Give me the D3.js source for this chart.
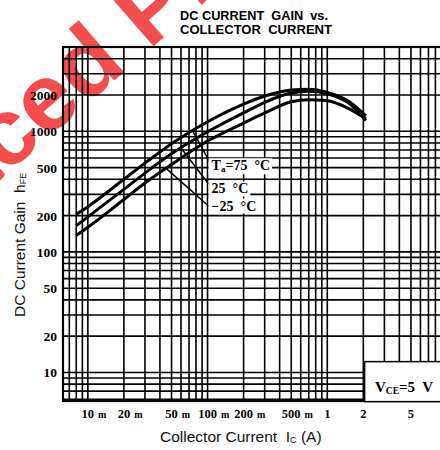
<!DOCTYPE html>
<html><head><meta charset="utf-8">
<script src="https://cdn.jsdelivr.net/npm/d3@7"></script>
<style>body{margin:0;background:#fff}svg{display:block}text{white-space:pre}</style>
</head><body>
<svg id="c" width="440" height="450"></svg>
<script>
// ---- data ----
const currents = [0.008, 0.01, 0.02, 0.03, 0.05, 0.1, 0.2, 0.3, 0.5, 0.7, 1, 1.5, 2.1];
const gain75  = [205, 237, 400, 545, 790, 1200, 1680, 1960, 2200, 2230, 2100, 1780, 1340];
const gain25  = [165, 195, 330, 450, 650, 990, 1420, 1740, 2080, 2150, 2050, 1720, 1230];
const gainM25 = [137, 160, 272, 372, 530, 830, 1170, 1420, 1760, 1830, 1790, 1550, 1270];
const seriesNames = ["T_a=75  °C", "25  °C", "−25  °C"];
const xTickValues = [0.01, 0.02, 0.05, 0.1, 0.2, 0.5, 1, 2, 5];
const xTickNumbers = ["10", "20", "50", "100", "200", "500", "1", "2", "5"];
const xTickSuffix = ["m", "m", "m", "m", "m", "m", "", "", ""];
const yTickValues = [10, 20, 50, 100, 200, 500, 1000, 2000];
const yTickLabels = ["10", "20", "50", "100", "200", "500", "1000", "2000"];
const leaderCurrents = [0.075, 0.06, 0.045];

// ---- setup ----
const svg = d3.select("#c");
const x = d3.scaleLog().domain([0.0062, 10]).range([63, 447]);
const y = d3.scaleLog().domain([5.8, 5000]).range([401, 47]);
const serif = "'Liberation Serif','Times New Roman',serif";
const sans = "'Liberation Sans',Arial,sans-serif";

// watermark (background)
svg.append("text")
  .attr("transform", "translate(-190,345) rotate(-41)")
  .attr("font-family", sans).attr("font-weight", "bold").attr("font-size", 95)
  .attr("fill", "#f23a3a").attr("opacity", 0.9)
  .text("Replaced Product");

// grid values
function logGrid(lo, hi) {
  const out = [];
  for (let e = -4; e <= 4; e++) {
    for (let m = 1; m <= 9; m++) {
      const v = m * Math.pow(10, e);
      if (v >= lo * 1.0001 && v <= hi * 0.9999) out.push(v);
    }
  }
  return out;
}
const xGrid = logGrid(0.0062, 10);
const yGrid = logGrid(5.8, 5000);
const [x0, x1] = x.range();
const [yb, yt] = y.range();

const grid = svg.append("g").attr("stroke", "#000").attr("stroke-width", 1.6);
grid.selectAll("line.v").data(xGrid).join("line")
  .attr("x1", d => x(d)).attr("x2", d => x(d)).attr("y1", yt).attr("y2", yb);
grid.selectAll("line.h").data(yGrid).join("line")
  .attr("y1", d => y(d)).attr("y2", d => y(d)).attr("x1", x0).attr("x2", x1);
svg.append("rect").attr("x", x0).attr("y", yt).attr("width", x1 - x0).attr("height", yb - yt)
  .attr("fill", "none").attr("stroke", "#000").attr("stroke-width", 2.2);

// curves
const series = [gain75, gain25, gainM25];
const line = d3.line().x(d => x(d[0])).y(d => y(d[1])).curve(d3.curveMonotoneX);
svg.append("g").selectAll("path").data(series).join("path")
  .attr("d", s => line(currents.map((c, i) => [c, s[i]])))
  .attr("fill", "none").attr("stroke", "#000").attr("stroke-width", 3);

// interpolate on curve (log-log)
function gainAt(s, c) {
  for (let i = 0; i < currents.length - 1; i++) {
    if (c >= currents[i] && c <= currents[i + 1]) {
      const t = (Math.log(c) - Math.log(currents[i])) / (Math.log(currents[i + 1]) - Math.log(currents[i]));
      return Math.exp(Math.log(s[i]) + t * (Math.log(s[i + 1]) - Math.log(s[i])));
    }
  }
  return s[0];
}

// labels for series
const labelPos = [[0.108, 475], [0.108, 305], [0.108, 220]];
const leaderEnd = [[0.105, 550], [0.102, 365], [0.102, 240]];
const lg = svg.append("g");
series.forEach((s, i) => {
  lg.append("line")
    .attr("x1", x(leaderCurrents[i])).attr("y1", y(gainAt(s, leaderCurrents[i])))
    .attr("x2", x(leaderEnd[i][0])).attr("y2", y(leaderEnd[i][1]))
    .attr("stroke", "#000").attr("stroke-width", 1.5);
});
series.forEach((s, i) => {
  const g = lg.append("g");
  const t = g.append("text").attr("x", x(labelPos[i][0])).attr("y", y(labelPos[i][1]))
    .attr("font-family", serif).attr("font-weight", "bold").attr("font-size", 14);
  const name = seriesNames[i];
  if (name.startsWith("T_a")) {
    t.append("tspan").text("T");
    t.append("tspan").text("a").attr("font-size", 9).attr("dy", 2);
    t.append("tspan").text(name.slice(3)).attr("dy", -2);
  } else {
    t.text(name);
  }
  const bb = t.node().getBBox();
  g.insert("rect", "text").attr("x", bb.x - 3).attr("y", bb.y)
    .attr("width", bb.width + 5).attr("height", bb.height).attr("fill", "#fff");
});

// axis tick labels
const xt = svg.append("g").attr("font-family", serif).attr("font-weight", "bold").attr("font-size", 12.5);
xTickValues.forEach((v, i) => {
  const t = xt.append("text").attr("x", x(v)).attr("y", 418).attr("text-anchor", "middle").text(xTickNumbers[i]);
  if (xTickSuffix[i]) {
    const w = t.node().getComputedTextLength();
    xt.append("text").attr("x", x(v) + w / 2 + 4).attr("y", 418).attr("font-size", 10).text(xTickSuffix[i]);
  }
});
const yt2 = svg.append("g").attr("font-family", serif).attr("font-weight", "bold").attr("font-size", 13.5);
yTickValues.forEach((v, i) => {
  yt2.append("text").attr("x", 57).attr("y", y(v) + 5).attr("text-anchor", "end").text(yTickLabels[i]);
});

// axis titles
const xtTitle = svg.append("text").attr("x", 160).attr("y", 442)
  .attr("font-family", sans).attr("font-size", 15.5).attr("fill", "#111");
xtTitle.append("tspan").text("Collector Current  I");
xtTitle.append("tspan").text("C").attr("font-size", 9).attr("dy", 1);
xtTitle.append("tspan").text(" (A)").attr("dy", -1);

const ytTitle = svg.append("text").attr("transform", "translate(25,317) rotate(-90)")
  .attr("font-family", sans).attr("font-size", 15.5).attr("fill", "#111");
ytTitle.append("tspan").text("DC Current Gain  h");
ytTitle.append("tspan").text("FE").attr("font-size", 9).attr("dy", 1);

// chart title
const titleLines = ["DC CURRENT  GAIN  vs.", "COLLECTOR  CURRENT"];
titleLines.forEach((s, i) => {
  svg.append("text").attr("x", 180).attr("y", 20 + i * 14)
    .attr("font-family", sans).attr("font-weight", "bold").attr("font-size", 13)
    .attr("textLength", i === 0 ? 148 : 152).attr("lengthAdjust", "spacingAndGlyphs")
    .text(s);
});

// VCE box
const vg = svg.append("g");
vg.append("rect").attr("x", x(2.05)).attr("y", y(12.3)).attr("width", 100).attr("height", 40)
  .attr("fill", "#fff").attr("stroke", "#000").attr("stroke-width", 1.5);
const vt = vg.append("text").attr("x", x(2.5)).attr("y", 392)
  .attr("font-family", serif).attr("font-weight", "bold").attr("font-size", 15);
vt.append("tspan").text("V");
vt.append("tspan").text("CE").attr("font-size", 9.5).attr("dy", 2);
vt.append("tspan").text("=5  V").attr("dy", -2);
</script>
</body></html>
